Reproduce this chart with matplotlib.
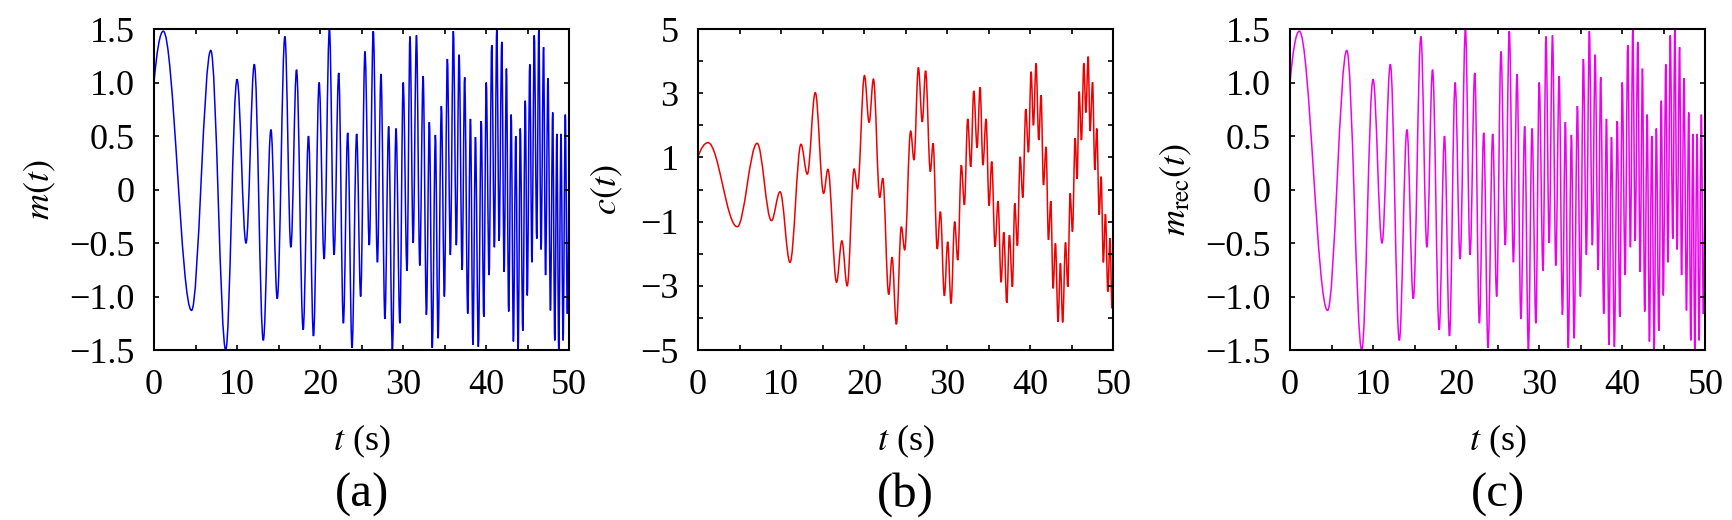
import matplotlib
matplotlib.use("Agg")
import matplotlib.pyplot as plt
from matplotlib.path import Path
from matplotlib.patches import PathPatch

plt.rcParams['font.family'] = ['Liberation Serif', 'DejaVu Serif']
plt.rcParams['mathtext.fontset'] = 'stix'

# message m(t): successive peaks / troughs, with both end values
m_t = [0, 1.12, 4.52, 6.84, 8.64, 10.0, 11.08, 12.08, 13.16, 14.08, 14.84, 15.76,
       16.48, 17.16, 17.96, 18.6, 19.2, 19.88, 20.48, 21.12, 21.68, 22.24, 22.8,
       23.32, 23.84, 24.4, 24.88, 25.4, 25.92, 26.4, 26.9, 27.33, 27.8, 28.25,
       28.7, 29.14, 29.6, 30.0, 30.46, 30.82, 31.2, 31.6, 32.0, 32.4, 32.8, 33.15,
       33.5, 33.88, 34.2, 34.6, 34.96, 35.32, 35.68, 36.04, 36.4, 36.73, 37.1,
       37.4, 37.77, 38.1, 38.4, 38.7, 39.05, 39.4, 39.7, 40.0, 40.34, 40.66, 40.98,
       41.27, 41.55, 41.87, 42.15, 42.43, 42.7, 43.0, 43.27, 43.55, 43.84, 44.1,
       44.4, 44.7, 44.94, 45.24, 45.5, 45.78, 46.08, 46.33, 46.6, 46.9, 47.14,
       47.43, 47.73, 48.0, 48.25, 48.5, 48.73, 49.0, 49.25, 49.52, 49.76, 50.0]
m_v = [1.0, 1.48, -1.13, 1.30, -1.5, 1.03, -0.50, 1.17, -1.41, 0.56, -1.02, 1.43,
       -0.54, 1.12, -1.31, 0.50, -1.37, 1.0, -0.65, 1.5, -0.61, 1.09, -1.25,
       0.53, -1.48, 0.52, -1.0, 1.29, -0.52, 1.48, -0.68, 1.08, -1.21, 0.59,
       -1.5, 0.57, -1.25, 1.0, -0.76, 1.43, -0.50, 1.44, -0.71, 1.06, -1.17, 0.63,
       -1.48, 0.51, -1.39, 0.78, -1.0, 1.22, -0.61, 1.48, -0.52, 1.26, -0.75,
       1.05, -1.16, 0.66, -1.45, 0.49, -1.47, 0.64, -1.19, 1.0, -0.80, 1.35, -0.54,
       1.5, -0.48, 1.38, -0.77, 1.13, -1.14, 0.70, -1.42, 0.50, -1.49, 0.57,
       -1.32, 0.83, -0.99, 1.17, -0.68, 1.44, -0.46, 1.5, -0.56, 1.33, -0.80,
       1.04, -1.13, 0.72, -1.41, 0.52, -1.5, 0.52, -1.41, 0.70, -1.16, 1.0]

# transmitted signal c(t), panel (b)
c_t = [0, 1.2, 4.72, 7.12, 8.84, 9.88, 11.08, 12.4, 13.16, 14.12, 15.12, 15.64,
       16.68, 17.32, 17.96, 18.8, 19.2, 20.04, 20.6, 21.12, 21.88, 22.24, 22.96,
       23.36, 23.88, 24.48, 24.88, 25.6, 26.0, 26.53, 27.0, 27.4, 27.97, 28.3,
       28.8, 29.18, 29.66, 30.06, 30.46, 30.9, 31.27, 31.7, 32.07, 32.47, 32.83,
       33.2, 33.6, 33.96, 34.3, 34.68, 35.04, 35.36, 35.76, 36.12, 36.49, 36.81,
       37.17, 37.49, 37.85, 38.13, 38.45, 38.78, 39.1, 39.46, 39.78, 40.1, 40.38,
       40.7, 41.02, 41.3, 41.59, 41.9, 42.19, 42.47, 42.75, 43.03, 43.35, 43.63,
       43.9, 44.24, 44.52, 44.8, 45.08, 45.4, 45.64, 45.88, 46.16, 46.45, 46.69,
       46.97, 47.2, 47.5, 47.77, 48.01, 48.3, 48.53, 48.8, 49.05, 49.34, 49.6,
       49.84, 50.0]
c_v = [1.02, 1.46, -1.16, 1.44, -0.97, -0.07, -2.27, 1.41, 0.48, 3.02, -0.12, 0.63,
       -2.89, -1.60, -3.0, 0.64, 0.02, 3.55, 2.09, 3.44, -0.25, 0.35, -3.27,
       -2.11, -4.2, -1.16, -1.88, 1.82, 0.92, 3.8, 2.11, 3.7, 0.56, 1.44,
       -1.85, -0.69, -3.31, -1.63, -3.55, -1.0, -2.2, 0.76, -0.48, 2.2, 0.71,
       3.07, 1.30, 3.19, 0.76, 2.2, -0.50, 0.87, -1.78, -0.36, -2.89, -1.33,
       -3.53, -1.42, -3.03, -0.43, -1.75, 1.02, -0.25, 2.51, 1.16, 3.67, 2.0,
       3.93, 1.54, 2.94, 0.14, 1.33, -1.57, -0.36, -3.08, -1.68, -4.12, -2.3,
       -4.14, -1.65, -3.03, -0.12, -1.31, 1.6, 0.33, 3.05, 1.54, 3.93, 2.40,
       4.14, 1.82, 3.34, 0.61, 1.9, -0.79, 0.40, -2.27, -0.77, -3.18, -1.52,
       -3.7, -1.75]

# recovered message, panel (c): the trace reads the same as panel (a)
mrec_t = list(m_t)
mrec_v = list(m_v)

x_ticks = [0, 5, 10, 15, 20, 25, 30, 35, 40, 45, 50]
x_labels = ['0', '', '10', '', '20', '', '30', '', '40', '', '50']
m_ticks = [1.5, 1.0, 0.5, 0, -0.5, -1.0, -1.5]
m_labels = ['1.5', '1.0', '0.5', '0', '\u22120.5', '\u22121.0', '\u22121.5']
c_ticks = [5, 4, 3, 2, 1, 0, -1, -2, -3, -4, -5]
c_labels = ['5', '', '3', '', '1', '', '\u22121', '', '\u22123', '', '\u22125']


def extrema_path(t, y):
    # smooth trace: cubic segments with flat tangents at every peak / trough
    verts = [(t[0], y[0])]
    codes = [Path.MOVETO]
    n = len(t)
    for i in range(n - 1):
        dt = t[i + 1] - t[i]
        dy = y[i + 1] - y[i]
        if i == 0:
            c1 = (t[i] + 0.3 * dt, y[i] + 0.6 * dy)
        else:
            c1 = (t[i] + 0.364 * dt, y[i])
        if i == n - 2:
            c2 = (t[i + 1] - 0.3 * dt, y[i + 1] - 0.6 * dy)
        else:
            c2 = (t[i + 1] - 0.364 * dt, y[i + 1])
        verts += [c1, c2, (t[i + 1], y[i + 1])]
        codes += [Path.CURVE4] * 3
    return Path(verts, codes)


fig = plt.figure(figsize=(17.32, 5.2), dpi=100)

panels = [
    (0.0889, m_t, m_v, '#0000ee', (-1.5, 1.5), m_ticks, m_labels, r'$m(t)$', -0.274, '(a)'),
    (0.4030, c_t, c_v, '#ee0000', (-5, 5), c_ticks, c_labels, r'$c(t)$', -0.219, '(b)'),
    (0.7448, mrec_t, mrec_v, '#ee00ee', (-1.5, 1.5), m_ticks, m_labels,
     r'$m_{\rm rec}(t)$', -0.274, '(c)'),
]

for left, t, y, col, ylim, yt, yl, ylab, ylx, tag in panels:
    ax = fig.add_axes([left, 0.3269, 0.2398, 0.6173])
    ax.add_patch(PathPatch(extrema_path(t, y), fill=False, edgecolor=col, lw=1.1))
    ax.set_xlim(0, 50)
    ax.set_ylim(*ylim)
    ax.set_xticks(x_ticks)
    ax.set_xticklabels(x_labels)
    ax.set_yticks(yt)
    ax.set_yticklabels(yl)
    ax.tick_params(direction='in', top=True, right=True, length=3.5, width=1.2,
                   labelsize=26, pad=14)
    for sp in ax.spines.values():
        sp.set_linewidth(1.5)
    ax.set_xlabel(r'$t$ (s)', fontsize=26)
    ax.xaxis.set_label_coords(0.5, -0.283)
    ax.xaxis.label.set_va('center')
    ax.set_ylabel(ylab, fontsize=26)
    ax.yaxis.set_label_coords(ylx, 0.5)
    ax.yaxis.label.set_va('center')
    fig.text(left + 0.1199, 0.048, tag, ha='center', va='center', fontsize=35)

fig.savefig('out.png', dpi=100)
